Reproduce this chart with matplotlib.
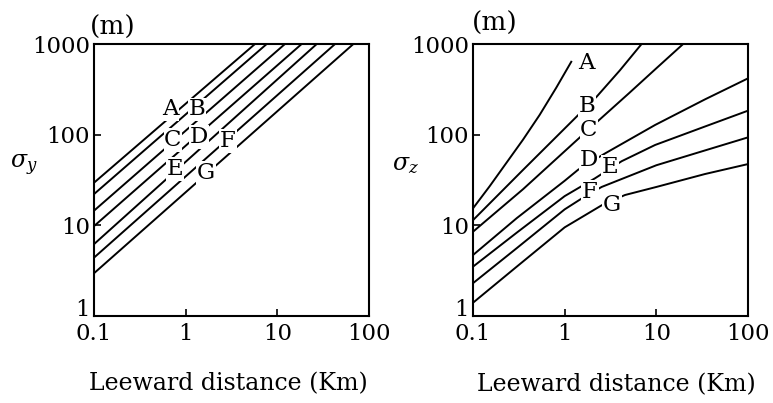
import matplotlib
matplotlib.use("Agg")
import matplotlib.pyplot as plt

plt.rcParams['font.family'] = ['DejaVu Serif']
plt.rcParams['mathtext.fontset'] = 'dejavuserif'

stab = ['A', 'B', 'C', 'D', 'E', 'F', 'G']

# sigma_y: straight lines from x=0.1 up to the 1000 m top edge
sy_at_01 = [29.5, 22.1, 14.5, 9.8, 6.2, 4.4, 2.96]
sy_x_at_1000 = [5.7, 7.65, 12.1, 18.4, 26.9, 42.6, 67.5]

# sigma_z curves
sz_x = {
    'A': [0.1, 0.152, 0.351, 0.533, 0.81, 1.18],
    'B': [0.1, 0.35, 1.34, 2.23, 4.0, 6.9],
    'C': [0.1, 0.351, 1.34, 2.32, 5.0, 10.0, 19.6],
    'D': [0.1, 0.3, 1.0, 1.4, 2.75, 9.7, 33.9, 100],
    'E': [0.1, 0.3, 1.0, 2.14, 4.19, 9.7, 33.9, 100],
    'F': [0.1, 0.3, 1.0, 1.5, 2.53, 10.0, 33.9, 100],
    'G': [0.1, 0.3, 1.0, 2.55, 4.55, 10.0, 33.9, 100],
}
sz_y = {
    'A': [15.4, 27, 88, 165, 330, 637],
    'B': [11.4, 40.7, 157, 262, 512, 1000],
    'C': [8.5, 25, 86, 142, 285, 540, 1000],
    'D': [4.7, 12, 31, 41, 62, 128, 245, 418],
    'E': [3.5, 8.3, 21, 33, 51, 77, 123, 184],
    'F': [2.3, 5.6, 15, 19.5, 26.5, 46, 67, 93.4],
    'G': [1.4, 3.5, 9.5, 16.7, 21.6, 26.5, 36.8, 47.4],
}

# label positions (data coords)
lab_y = {'A': (0.675, 191), 'B': (1.33, 191), 'C': (0.727, 87), 'D': (1.40, 94),
         'F': (2.89, 85), 'E': (0.764, 41.8), 'G': (1.66, 37.7)}
lab_z = {'A': (1.71, 616), 'B': (1.75, 207), 'C': (1.84, 112), 'D': (1.84, 52.5),
         'E': (3.12, 44), 'F': (1.89, 23.3), 'G': (3.28, 16.7)}

xticks = [0.1, 1, 10, 100]
xticklabels = ['0.1', '1', '10', '100']
yticks = [1, 10, 100, 1000]
yticklabels = ['', '10', '100', '1000']   # the "1" is drawn by hand, a bit higher


def style_ax(ax):
    ax.set_xscale('log')
    ax.set_yscale('log')
    ax.set_xlim(0.1, 100)
    ax.set_ylim(1, 1000)
    ax.set_xticks(xticks)
    ax.set_xticklabels(xticklabels)
    ax.set_yticks(yticks)
    ax.set_yticklabels(yticklabels)
    ax.minorticks_off()
    ax.tick_params(direction='in', length=5, width=1.2, labelsize=16.5)
    ax.tick_params(axis='x', pad=5)
    ax.tick_params(axis='y', pad=3)
    for s in ax.spines.values():
        s.set_linewidth(1.5)
    ax.annotate('1', xy=(0, 1), xycoords=('axes fraction', 'data'),
                xytext=(-3, 0), textcoords='offset points',
                ha='right', va='baseline', fontsize=16.5)


def put_label(ax, name, pos):
    ax.text(pos[0], pos[1], name, fontsize=16.5, ha='center', va='center', zorder=5,
            bbox=dict(facecolor='white', edgecolor='none', pad=0.5))


fig = plt.figure(figsize=(7.73, 4.03), dpi=100)
ax1 = fig.add_axes([0.1216, 0.2159, 0.3558, 0.6749])
ax2 = fig.add_axes([0.6119, 0.2159, 0.3558, 0.6749])

for i, s in enumerate(stab):
    ax1.plot([0.1, sy_x_at_1000[i]], [sy_at_01[i], 1000], color='black', lw=1.4)
    put_label(ax1, s, lab_y[s])

for s in stab:
    ax2.plot(sz_x[s], sz_y[s], color='black', lw=1.4)
    put_label(ax2, s, lab_z[s])

style_ax(ax1)
style_ax(ax2)

fig.text(0.146, 0.933, '(m)', fontsize=19, ha='center', va='center')
fig.text(0.640, 0.943, '(m)', fontsize=19, ha='center', va='center')
fig.text(0.031, 0.591, r'$\sigma_y$', fontsize=17, ha='center', va='center')
fig.text(0.525, 0.591, r'$\sigma_z$', fontsize=17, ha='center', va='center')
fig.text(0.296, 0.047, 'Leeward distance (Km)', fontsize=17, ha='center', va='center')
fig.text(0.797, 0.045, 'Leeward distance (Km)', fontsize=17, ha='center', va='center')

fig.savefig('out.png', dpi=100)
